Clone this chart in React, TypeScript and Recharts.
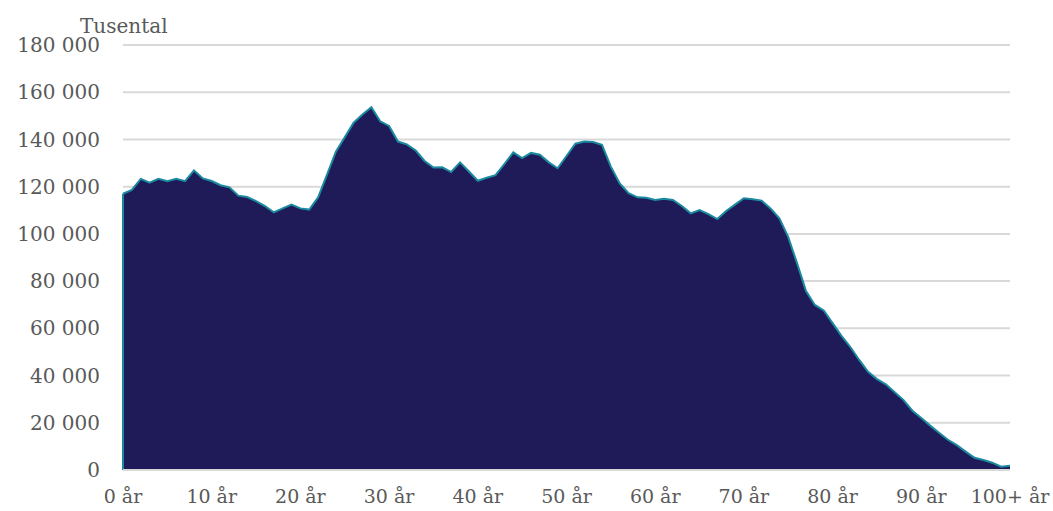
import React from 'react';
import { AreaChart, Area, XAxis, YAxis, CartesianGrid, ReferenceLine } from 'recharts';

const ages: number[] = Array.from({ length: 101 }, (_, i) => i);
const population: number[] = [
  117000, 118600, 123300, 121700, 123300, 122300, 123300, 122300, 126900, 123500,
  122400, 120600, 119700, 116200, 115600, 113900, 111800, 109100, 110800, 112400,
  110800, 110300, 115500, 125100, 134800, 140900, 147100, 150600, 153600, 147700,
  145700, 139100, 137900, 135300, 130900, 128100, 128200, 126200, 130300, 126400,
  122500, 123800, 124900, 129600, 134500, 132100, 134300, 133500, 130300, 127800,
  133000, 138200, 139100, 138900, 137700, 128500, 121400, 117200, 115500, 115300,
  114400, 114900, 114400, 111800, 108700, 110100, 108400, 106300, 109700, 112400,
  115100, 114700, 114100, 110800, 106600, 98600, 87500, 75800, 69900, 67600,
  62200, 56800, 52100, 46600, 41600, 38500, 36300, 32900, 29600, 25100,
  22000, 18800, 15800, 12800, 10500, 7800, 5200, 4200, 3100, 1400,
  1800,
];
const xTicks: number[] = [0, 10, 20, 30, 40, 50, 60, 70, 80, 90, 100];
const yTicks: number[] = [0, 20000, 40000, 60000, 80000, 100000, 120000, 140000, 160000, 180000];
const unitLabel = 'Tusental';

const data = ages.map((a, i) => ({ age: a, value: population[i] }));

const FONT = '"DejaVu Serif", serif';
const TEXT = '#595959';
const FS = 20;

const fmtY = (v: number) => String(v).replace(/\B(?=(\d{3})+(?!\d))/g, ' ');
const fmtX = (v: number) => (v === 100 ? '100+ år' : `${v} år`);

export default function App() {
  return (
    <div style={{ position: 'absolute', left: 0, top: 0, width: 1053, height: 511, background: '#fff' }}>
      <div
        style={{
          position: 'absolute',
          left: 80,
          top: 14,
          fontFamily: FONT,
          fontSize: FS,
          color: TEXT,
          lineHeight: '24px',
        }}
      >
        {unitLabel}
      </div>
      <AreaChart
        width={1053}
        height={511}
        data={data}
        margin={{ top: 45, right: 43, bottom: 11, left: 10 }}
      >
        <CartesianGrid vertical={false} stroke="#d9d9d9" strokeWidth={2} />
        <XAxis
          dataKey="age"
          type="number"
          domain={[0, 100]}
          ticks={xTicks}
          tickFormatter={fmtX}
          interval={0}
          height={30}
          tickLine={false}
          tickSize={0}
          tickMargin={20}
          axisLine={{ stroke: '#d9d9d9', strokeWidth: 2 }}
          tick={{ fill: TEXT, fontFamily: FONT, fontSize: FS - 1 }}
        />
        <YAxis
          type="number"
          domain={[0, 180000]}
          ticks={yTicks}
          tickFormatter={fmtY}
          interval={0}
          width={113}
          axisLine={false}
          tickLine={false}
          tickSize={0}
          tickMargin={23}
          tick={{ fill: TEXT, fontFamily: FONT, fontSize: FS }}
        />
        <Area
          type="linear"
          dataKey="value"
          stroke="#1b8aa0"
          strokeWidth={2}
          fill="#1f1b59"
          fillOpacity={1}
          isAnimationActive={false}
        />
        <ReferenceLine
          segment={[{ x: 0, y: 0 }, { x: 0, y: population[0] }]}
          stroke="#1b8aa0"
          strokeWidth={2}
        />
      </AreaChart>
    </div>
  );
}
